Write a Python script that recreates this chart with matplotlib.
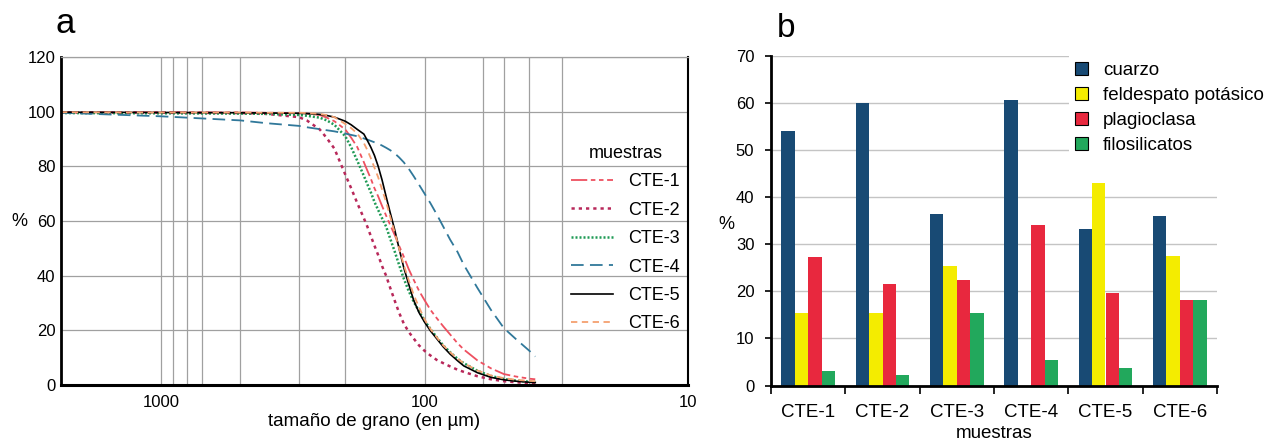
import numpy as np
import matplotlib.pyplot as plt
from matplotlib.patches import Patch

plt.rcParams['font.family'] = ['Liberation Sans', 'DejaVu Sans']

# --- panel a: curvas granulometricas (% que pasa) ---
sizes = [2400, 1000, 500, 400, 300, 280, 250, 235, 220, 200, 190, 180, 170, 165,
         160, 155, 150, 145, 140, 135, 130, 125, 120, 115, 110, 105, 100, 95, 90,
         85, 80, 75, 71, 63, 56, 50, 45, 40, 38]
cte1 = [99.8, 99.8, 99.7, 99.6, 99.5, 99.3, 98.8, 97.8, 96.5, 93.5, 90.5, 87.0, 81.5, 78.5,
        75.5, 72.0, 69.0, 65.5, 62.0, 58.5, 55.0, 51.0, 47.0, 42.5, 38.5, 34.5, 31.0, 27.5, 24.5,
        21.5, 18.5, 15.3, 13.0, 9.0, 6.1, 4.0, 3.1, 2.3, 2.1]
cte2 = [99.7, 99.6, 99.5, 99.2, 98.0, 96.8, 93.5, 90.3, 86.5, 77.0, 72.0, 66.5, 61.0, 58.0,
        54.5, 51.0, 47.5, 43.5, 40.0, 35.5, 31.0, 26.5, 22.5, 19.5, 17.0, 14.5, 12.5, 10.8, 9.2,
        8.0, 6.8, 5.6, 4.8, 3.2, 2.1, 1.4, 1.0, 0.7, 0.6]
cte3 = [99.5, 99.4, 99.3, 99.2, 98.8, 98.5, 97.8, 96.8, 95.2, 91.0, 87.0, 82.0, 76.5, 73.5,
        70.5, 67.0, 64.0, 61.0, 58.0, 53.5, 49.0, 44.0, 39.0, 34.5, 30.5, 27.0, 23.5, 20.5, 17.5,
        14.5, 12.0, 9.6, 8.0, 5.2, 3.3, 2.2, 1.6, 1.2, 1.1]
cte4 = [99.6, 98.3, 96.8, 95.8, 94.8, 94.3, 93.6, 93.2, 92.8, 92.0, 91.5, 91.0, 90.2, 89.8,
        89.3, 88.8, 88.3, 87.6, 86.8, 85.9, 84.8, 83.3, 81.5, 79.2, 76.4, 73.3, 70.0, 66.5, 62.5,
        58.0, 53.2, 48.7, 44.0, 35.5, 27.5, 20.8, 16.8, 12.5, 10.4]
cte5 = [99.8, 99.7, 99.6, 99.5, 99.4, 99.3, 99.0, 98.6, 98.0, 96.5, 95.2, 93.5, 91.8, 89.5,
        87.0, 84.0, 80.0, 75.0, 69.0, 63.0, 57.0, 50.0, 43.0, 37.0, 31.0, 26.5, 23.0, 19.8, 17.0,
        14.0, 11.3, 8.9, 7.0, 4.5, 2.8, 1.9, 1.4, 1.0, 0.9]
cte6 = [99.8, 99.7, 99.7, 99.6, 99.6, 99.5, 99.2, 98.7, 98.0, 95.5, 94.0, 92.0, 88.5, 86.0,
        83.0, 79.5, 76.0, 71.5, 67.0, 61.5, 56.0, 50.0, 44.0, 38.5, 33.0, 28.5, 24.0, 20.5, 17.5,
        14.5, 12.0, 9.6, 8.0, 5.3, 3.5, 2.5, 1.9, 1.5, 1.4]
sieves = [1000, 900, 800, 700, 500, 300, 200, 100, 60, 50, 40, 30]

# --- panel b: mineralogia ---
muestras = ['CTE-1', 'CTE-2', 'CTE-3', 'CTE-4', 'CTE-5', 'CTE-6']
cuarzo = [54.0, 60.0, 36.5, 60.7, 33.3, 36.1]
feldespato = [15.5, 15.4, 25.3, 0.0, 43.0, 27.5]
plagioclasa = [27.3, 21.6, 22.5, 34.0, 19.7, 18.2]
filosilicatos = [3.0, 2.3, 15.4, 5.4, 3.8, 18.1]

fig = plt.figure(figsize=(12.85, 4.41), dpi=100)

# ---------------- a ----------------
ax = fig.add_axes([61/1285, 56/441, 627/1285, 328/441])
ax.set_xscale('log')
ax.set_xlim(2400, 10)
ax.set_ylim(0, 120)
for s in sieves:
    ax.axvline(s, color='#a0a0a0', lw=0.9, zorder=0)
ax.set_yticks(range(0, 121, 20))
ax.yaxis.grid(True, color='#a0a0a0', lw=0.9)
ax.set_axisbelow(True)

ax.plot(sizes, cte1, color='#ee5060', lw=1.3, dashes=(9, 2, 2.5, 2, 2.5, 2), label='CTE-1')
ax.plot(sizes, cte2, color='#b8285a', lw=1.8, dashes=(1.3, 1.6), label='CTE-2')
ax.plot(sizes, cte3, color='#1f9a55', lw=1.8, dashes=(0.8, 0.8), label='CTE-3')
ax.plot(sizes, cte4, color='#30789a', lw=1.3, dashes=(7, 3.5), label='CTE-4')
ax.plot(sizes, cte5, color='black', lw=1.2, label='CTE-5')
ax.plot(sizes, cte6, color='#f4a070', lw=1.3, dashes=(3.5, 2.5), label='CTE-6')

ax.set_xticks([1000, 100, 10])
ax.set_xticklabels(['1000', '100', '10'])
ax.xaxis.set_minor_locator(plt.NullLocator())
ax.tick_params(axis='x', length=0, pad=7, labelsize=12)
ax.tick_params(axis='y', length=0, pad=4, labelsize=12)
ax.set_xlabel('tamaño de grano (en µm)', fontsize=13.5, labelpad=2)
ax.set_ylabel('%', rotation=0, fontsize=13, va='center', ha='center')
ax.yaxis.set_label_coords(-0.067, 0.497)

ax.spines['left'].set_linewidth(2)
ax.spines['bottom'].set_linewidth(2.2)
ax.spines['right'].set_linewidth(1.5)
ax.spines['top'].set_color('#a0a0a0')
ax.spines['top'].set_linewidth(0.9)

leg = ax.legend(title='muestras', frameon=False, fontsize=13, title_fontsize=13,
                loc='upper left', bbox_to_anchor=(562/1285, 1 - 136/441),
                bbox_transform=fig.transFigure, handlelength=2.3,
                handletextpad=0.85, labelspacing=0.63, borderpad=0)

fig.text(65/1285, 1 - 33/441, 'a', fontsize=25, ha='center', va='baseline')

# ---------------- b ----------------
bx = fig.add_axes([771/1285, 55.5/441, 446/1285, 329.5/441])
x = np.arange(len(muestras))
w = 0.18
colores = ['#184a74', '#f4ec00', '#e8283e', '#22a85c']
series = [cuarzo, feldespato, plagioclasa, filosilicatos]
nombres = ['cuarzo', 'feldespato potásico', 'plagioclasa', 'filosilicatos']
for i, (vals, c) in enumerate(zip(series, colores)):
    bx.bar(x + (i - 1.5) * w, vals, w, color=c, zorder=2)

bx.set_xlim(-0.5, 5.5)
bx.set_ylim(0, 70)
bx.set_yticks(range(0, 71, 10))
bx.yaxis.grid(True, color='#c4c4c4', lw=1)
bx.set_axisbelow(True)
bx.set_xticks(np.arange(7) - 0.5)
bx.set_xticklabels([])
bx.set_xticks(x, minor=True)
bx.set_xticklabels(muestras, minor=True)
bx.tick_params(axis='x', which='major', length=6, width=1.2)
bx.tick_params(axis='x', which='minor', length=0, pad=13, labelsize=13.5)
bx.tick_params(axis='y', length=4, width=1.2, pad=8, labelsize=12)
bx.set_xlabel('muestras', fontsize=13.5, labelpad=3)
bx.set_ylabel('%', rotation=0, fontsize=13, va='center', ha='center')
bx.yaxis.set_label_coords(-0.101, 0.489)
for sp in ['top', 'right']:
    bx.spines[sp].set_visible(False)
bx.spines['left'].set_linewidth(2)
bx.spines['bottom'].set_linewidth(2)

handles = [Patch(facecolor=c, edgecolor='black', lw=0.8) for c in colores]
bx.legend(handles, nombres, loc='upper left', bbox_to_anchor=(1060/1285, 1 - 47/441),
          bbox_transform=fig.transFigure, fontsize=13.5, frameon=True,
          facecolor='white', edgecolor='none', framealpha=1, fancybox=False,
          handlelength=0.7, handleheight=0.7, handletextpad=0.8,
          labelspacing=0.42, borderpad=0.3)

fig.text(786/1285, 1 - 37/441, 'b', fontsize=24, ha='center', va='baseline')

fig.savefig('out.png', dpi=100)
